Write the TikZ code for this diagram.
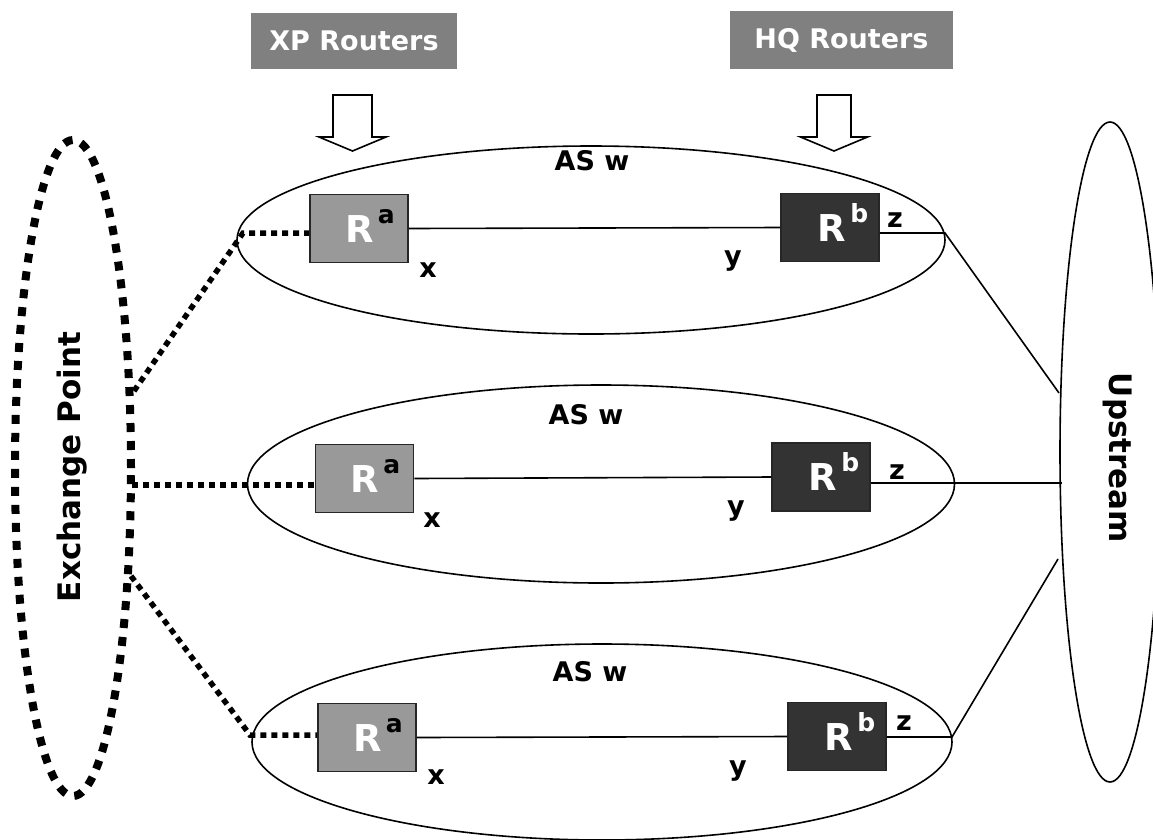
\documentclass[tikz,border=0pt]{standalone}
\usepackage{fontspec}
\setmainfont{DejaVu Sans}
\usetikzlibrary{calc,shapes.geometric}
\tikzstyle{asring} = [ellipse, draw, line width=1.6pt, inner sep=0pt]
\tikzstyle{xpbox} = [rectangle, draw=black!85, line width=1.6pt, fill=black!40,
    minimum width=98pt, minimum height=68pt, inner sep=0pt]
\tikzstyle{hqbox} = [xpbox, fill=black!80]
\tikzstyle{title} = [rectangle, fill=black!50, text=white, inner sep=0pt,
    font=\fontsize{27}{27}\selectfont\bfseries]
\tikzstyle{lbl} = [inner sep=0pt, font=\fontsize{27}{27}\selectfont\bfseries]
\tikzstyle{rlbl} = [inner sep=0pt, anchor=base, font=\fontsize{37}{37}\selectfont\bfseries]
\tikzstyle{big} = [inner sep=0pt, font=\fontsize{31}{31}\selectfont\bfseries]
\tikzstyle{link} = [draw, line width=1.6pt]
\tikzstyle{peer} = [draw, line width=5.5pt, dash pattern=on 6pt off 5pt]
\tikzstyle{bigarrow} = [draw, line width=1.6pt, fill=white, line join=miter]
\newcommand{\rtag}[2]{\textcolor{white}{R}\hspace{4pt}\raisebox{19pt}{\fontsize{25}{25}\selectfont\color{#2}#1}}

\begin{document}
\begin{tikzpicture}[x=1pt, y=-1pt]
        \useasboundingbox (0,0) rectangle (1153,839);
        % Place nodes
        \node [title, minimum width=206pt, minimum height=56pt] (xptitle) at (354,41) {XP Routers};
        \node [title, minimum width=223pt, minimum height=58pt] (hqtitle) at (841.5,40) {HQ Routers};
        \node [asring, minimum width=708pt, minimum height=188pt] (as1) at (591,240) {};
        \node [asring, minimum width=707pt, minimum height=198pt] (as2) at (601,484) {};
        \node [asring, minimum width=700pt, minimum height=196pt] (as3) at (602,742) {};
        \node [ellipse, draw, line width=1.6pt, minimum width=100pt, minimum height=660pt] (up) at (1110,452) {};
        \node [ellipse, draw, line width=8pt, dash pattern=on 9pt off 9pt,
            minimum width=116pt, minimum height=656pt] (ixp) at (73,468) {};
        \node [big, rotate=90] (ixplbl) at (72,467) {Exchange Point};
        \node [big, rotate=-90] (uplbl) at (1118,458) {Upstream};
        % Block arrows
        \foreach \cx/\sw in {352.5/19.5, 834/17}
            \draw [bigarrow] (\cx-\sw,95) -- (\cx+\sw,95) -- (\cx+\sw,137) -- (\cx+33.5,137)
                -- (\cx,151) -- (\cx-33.5,137) -- (\cx-\sw,137) -- cycle;
        % Routers
        \node [xpbox] (ra1) at (359,228.5) {};
        \node [hqbox] (rb1) at (830,227.5) {};
        \node [xpbox] (ra2) at (364.5,478.5) {};
        \node [hqbox] (rb2) at (821,477) {};
        \node [xpbox] (ra3) at (367,737.5) {};
        \node [hqbox] (rb3) at (837,736.5) {};
        \foreach \r in {1,2,3} {
            \node [rlbl] at ($(ra\r.center)+(11,13.5)$) {\rtag{a}{black}};
            \node [rlbl] at ($(rb\r.center)+(13,13.5)$) {\rtag{b}{white}};
        }
        % Labels
        \node [lbl, anchor=base] (as1lbl) at (592,170) {AS w};
        \node [lbl, anchor=base] (as2lbl) at (586,424) {AS w};
        \node [lbl, anchor=base] (as3lbl) at (590,681) {AS w};
        \node [lbl, anchor=base] (x1) at (428,277) {x};
        \node [lbl, anchor=base] (y1) at (733,265) {y};
        \node [lbl, anchor=base] (z1) at (895,227) {z};
        \node [lbl, anchor=base] (x2) at (432,527) {x};
        \node [lbl, anchor=base] (y2) at (736,515) {y};
        \node [lbl, anchor=base] (z2) at (897,479) {z};
        \node [lbl, anchor=base] (x3) at (436,784) {x};
        \node [lbl, anchor=base] (y3) at (738,775) {y};
        \node [lbl, anchor=base] (z3) at (904,730) {z};
        % Junction points
        \coordinate (e1) at (134,391);
        \coordinate (e2) at (132,485);
        \coordinate (e3) at (131,576);
        \coordinate (j1) at (243,233);
        \coordinate (j3) at (250,735);
        \coordinate (k1) at (945,233);
        \coordinate (k3) at (952,737);
        \coordinate (u1) at (1059,393);
        \coordinate (u2) at (1062,483);
        \coordinate (u3) at (1058,559);
        % Draw edges
        \path [peer] (e1) -- (j1) -- (j1 -| ra1.west);
        \path [peer] (e2) -- (e2 -| ra2.west);
        \path [peer] (e3) -- (j3) -- (j3 -| ra3.west);
        \path [link] (ra1.east) -- (rb1.west);
        \path [link] (ra2.east) -- (rb2.west);
        \path [link] (ra3.east) -- (rb3.west);
        \path [link] (k1 -| rb1.east) -- (k1) -- (u1);
        \path [link] (u2 -| rb2.east) -- (u2);
        \path [link] (k3 -| rb3.east) -- (k3) -- (u3);
    \end{tikzpicture}
\end{document}
